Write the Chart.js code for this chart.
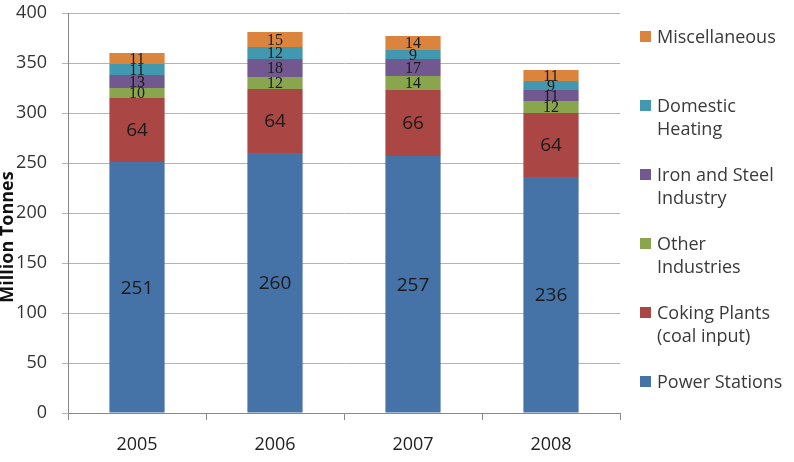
<!DOCTYPE html>
<html>
<head>
<meta charset="utf-8">
<script src="https://cdn.jsdelivr.net/npm/chart.js@4"></script>
<style>
  html, body { margin: 0; padding: 0; background: #fff; }
  #wrap { position: relative; width: 794px; height: 462px; overflow: hidden; }
  #legend { position: absolute; left: 640px; top: 25px; font-family: "Open Sans", sans-serif; font-size: 18px; color: #3a3a3a; white-space: nowrap; }
  .item { position: relative; height: 69px; line-height: 23px; padding-left: 17px; }
  .box { position: absolute; left: 0; top: 6px; width: 11px; height: 11px; }
</style>
</head>
<body>
<div id="wrap">
  <canvas id="chart" width="794" height="462"></canvas>
  <div id="legend"></div>
</div>
<script>
const years = ['2005', '2006', '2007', '2008'];
const seriesNames = ['Power Stations', 'Coking Plants (coal input)', 'Other Industries', 'Iron and Steel Industry', 'Domestic Heating', 'Miscellaneous'];
const legendLines = [['Power Stations'], ['Coking Plants', '(coal input)'], ['Other', 'Industries'], ['Iron and Steel', 'Industry'], ['Domestic', 'Heating'], ['Miscellaneous']];
const powerStations = [251, 260, 257, 236];
const cokingPlants = [64, 64, 66, 64];
const otherIndustries = [10, 12, 14, 12];
const ironSteel = [13, 18, 17, 11];
const domesticHeating = [11, 12, 9, 9];
const miscellaneous = [11, 15, 14, 11];
const yTicks = [0, 50, 100, 150, 200, 250, 300, 350, 400];
const yTitle = 'Million Tonnes';

const colors = ['#4572A7', '#AA4643', '#89A54E', '#71588F', '#4198AF', '#DB843D'];
const values = [powerStations, cokingPlants, otherIndustries, ironSteel, domesticHeating, miscellaneous];
const sans = '"Open Sans", sans-serif';

// legend, top entry = last series
const legend = document.getElementById('legend');
for (let i = seriesNames.length - 1; i >= 0; i--) {
    const div = document.createElement('div');
    div.className = 'item';
    div.innerHTML = '<span class="box" style="background:' + colors[i] + '"></span>' + legendLines[i].join('<br>');
    legend.appendChild(div);
}

const segmentLabels = {
    id: 'segmentLabels',
    afterDatasetsDraw(chart) {
        const ctx = chart.ctx;
        ctx.save();
        ctx.textAlign = 'center';
        ctx.textBaseline = 'middle';
        ctx.fillStyle = '#1a1a1a';
        chart.data.datasets.forEach((ds, di) => {
            const meta = chart.getDatasetMeta(di);
            ctx.font = di < 2 ? '19px ' + sans : '16px "Liberation Serif", "DejaVu Serif", serif';
            meta.data.forEach((bar, i) => {
                ctx.fillText(String(ds.data[i]), bar.x, (bar.y + bar.base) / 2 + 1);
            });
        });
        ctx.restore();
    }
};

// y axis title sits a bit below centre and is cut by the left edge, as in the original
const axisTitle = {
    id: 'axisTitle',
    afterDraw(chart) {
        const ctx = chart.ctx;
        ctx.save();
        ctx.translate(13, 237);
        ctx.rotate(-Math.PI / 2);
        ctx.textAlign = 'center';
        ctx.textBaseline = 'alphabetic';
        ctx.fillStyle = '#111';
        ctx.font = 'bold 18px ' + sans;
        ctx.fillText(yTitle, 0, 0);
        ctx.restore();
    }
};

new Chart(document.getElementById('chart').getContext('2d'), {
    type: 'bar',
    data: {
        labels: years,
        datasets: seriesNames.map((name, i) => ({
            label: name,
            data: values[i],
            backgroundColor: colors[i],
            borderWidth: 0,
            barPercentage: 0.4,
            categoryPercentage: 1
        }))
    },
    options: {
        responsive: false,
        animation: false,
        layout: { padding: { top: 13, right: 174, bottom: 0, left: 0 } },
        plugins: { legend: { display: false }, tooltip: { enabled: false } },
        scales: {
            x: {
                stacked: true,
                afterFit: s => { s.height = 49; },
                grid: { offset: true, drawOnChartArea: false, color: '#888', tickLength: 7 },
                border: { color: '#888' },
                ticks: { color: '#222', font: { family: sans, size: 18 }, padding: 14 }
            },
            y: {
                stacked: true,
                min: 0,
                max: 400,
                afterBuildTicks: s => { s.ticks = yTicks.map(v => ({ value: v })); },
                afterFit: s => { s.width = 68; s.paddingTop = 0; s.paddingBottom = 0; },
                grid: { color: '#b4b4b4', tickLength: 6 },
                border: { color: '#888' },
                ticks: { color: '#333', font: { family: sans, size: 18 }, padding: 15 }
            }
        }
    },
    plugins: [segmentLabels, axisTitle]
});
</script>
</body>
</html>
